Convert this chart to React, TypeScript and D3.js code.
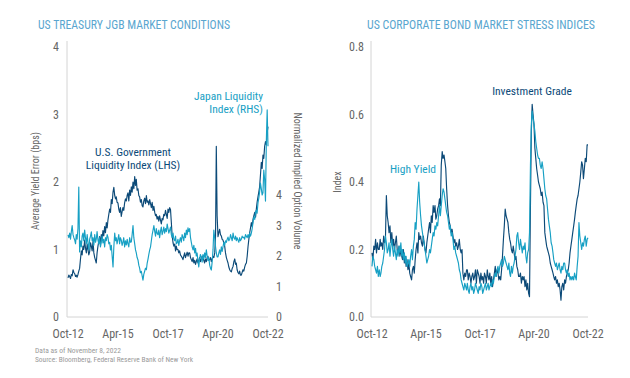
import React from 'react';
import * as d3 from 'd3';

// ---------- data (semi-monthly, Oct 2012 -> Oct 2022) ----------
const xTickLabels = ['Oct-12', 'Apr-15', 'Oct-17', 'Apr-20', 'Oct-22'];
const xTickMonths = [0, 30, 60, 90, 120];
const leftTicks = [0, 1, 2, 3, 4];
const rightTicks = [0, 1, 2, 3, 4];
const corpTicks = [0, 0.2, 0.4, 0.6, 0.8];
const corpTickLabels = ['0.0', '0.2', '0.4', '0.6', '0.8'];

const usGovLiquidity = [
  0.58, 0.62, 0.60, 0.57, 0.63, 0.61, 0.70, 0.66, 0.64, 0.60, 0.62, 0.59, 0.63, 0.68, 0.72, 0.85,
  0.98, 0.92, 1.05, 1.00, 1.14, 1.02, 0.95, 1.08, 1.00, 0.92, 0.97, 1.10, 1.05, 0.98, 1.12, 0.95,
  0.88, 0.84, 0.80, 0.95, 1.05, 1.12, 1.19, 1.08, 1.22, 1.15, 1.28, 1.20, 1.34, 1.25, 1.40, 1.32,
  1.44, 1.52, 1.60, 1.55, 1.74, 1.68, 1.85, 1.92, 1.80, 1.75, 1.78, 1.70, 1.69, 1.60, 1.55, 1.62,
  1.49, 1.56, 1.62, 1.58, 1.69, 1.75, 1.72, 1.80, 1.84, 1.72, 1.88, 1.80, 1.93, 1.85, 2.00, 1.90,
  2.08, 1.95, 2.04, 1.88, 1.90, 1.80, 1.78, 1.70, 1.74, 1.65, 1.63, 1.72, 1.76, 1.68, 1.80, 1.70,
  1.72, 1.66, 1.74, 1.68, 1.62, 1.70, 1.58, 1.64, 1.55, 1.50, 1.52, 1.45, 1.49, 1.42, 1.50, 1.44,
  1.38, 1.46, 1.44, 1.52, 1.50, 1.58, 1.52, 1.46, 1.60, 1.55, 1.62, 1.59, 1.40, 1.20, 1.10, 1.05,
  1.08, 0.98, 1.05, 1.00, 1.00, 0.95, 0.98, 0.92, 0.90, 0.88, 0.85, 0.90, 0.95, 0.88, 0.92, 0.96,
  0.90, 0.95, 0.95, 0.88, 0.85, 0.82, 0.88, 0.80, 0.84, 0.78, 0.82, 0.86, 0.80, 0.84, 0.88, 0.82,
  0.86, 0.90, 0.90, 0.84, 0.80, 0.86, 0.82, 0.88, 0.90, 0.84, 0.85, 0.88, 0.82, 0.86, 0.90, 0.88,
  0.95, 1.20, 2.53, 1.50, 1.19, 1.25, 1.30, 1.22, 1.20, 1.15, 1.14, 1.10, 1.05, 0.95, 0.88, 0.84,
  0.80, 0.74, 0.70, 0.68, 0.67, 0.72, 0.75, 0.82, 0.86, 0.78, 0.80, 0.70, 0.66, 0.64, 0.68, 0.62,
  0.62, 0.66, 0.70, 0.68, 0.74, 0.78, 0.80, 0.90, 1.04, 1.15, 1.25, 1.32, 1.40, 1.34, 1.45, 1.50,
  1.55, 1.48, 1.59, 1.70, 1.78, 1.85, 1.93, 2.10, 2.29, 2.20, 2.40, 2.35, 2.53, 2.60, 2.55, 2.73,
  2.82,
];

const japanLiquidity = [
  2.69, 2.60, 2.75, 2.55, 2.80, 3.00, 2.70, 2.60, 2.52, 2.40, 2.70, 2.55, 2.90, 4.26, 2.13, 2.50,
  2.30, 2.65, 2.75, 2.50, 2.85, 2.60, 2.40, 2.70, 2.43, 2.20, 2.55, 2.65, 2.79, 2.50, 2.60, 2.35,
  2.70, 2.45, 2.55, 2.80, 2.52, 2.40, 2.60, 2.30, 2.45, 2.65, 2.43, 2.55, 2.30, 2.60, 2.50, 2.70,
  2.62, 2.40, 2.45, 2.20, 2.35, 2.00, 1.64, 2.30, 2.75, 2.50, 2.60, 2.40, 2.55, 2.70, 2.40, 2.60,
  2.52, 2.35, 2.45, 2.60, 2.30, 2.50, 2.36, 2.55, 2.40, 2.30, 2.60, 2.45, 2.46, 2.70, 3.00, 2.60,
  2.40, 2.20, 2.10, 1.95, 1.87, 1.70, 1.60, 1.45, 1.50, 1.35, 1.21, 1.40, 1.50, 1.60, 1.55, 1.77,
  1.90, 2.05, 2.20, 2.30, 2.50, 2.70, 2.85, 3.00, 2.80, 2.65, 2.90, 2.75, 2.70, 2.85, 2.60, 2.80,
  2.95, 2.70, 2.80, 2.95, 2.75, 2.90, 2.80, 3.05, 2.90, 2.75, 2.85, 2.95, 2.70, 2.60, 2.75, 2.55,
  2.50, 2.65, 2.40, 2.43, 2.55, 2.35, 2.50, 2.60, 2.45, 2.70, 2.62, 2.50, 2.75, 2.60, 2.85, 2.70,
  2.92, 2.80, 2.90, 2.60, 2.45, 2.30, 2.20, 2.35, 2.10, 2.25, 2.00, 2.10, 1.85, 1.64, 1.90, 2.05,
  1.95, 1.80, 2.05, 1.90, 2.10, 1.95, 2.20, 2.00, 1.85, 1.95, 1.70, 1.60, 1.54, 1.80, 2.20, 2.85,
  2.60, 2.30, 2.10, 1.97, 1.97, 2.10, 2.20, 2.05, 2.30, 2.15, 2.30, 2.45, 2.35, 2.50, 2.45, 2.55,
  2.62, 2.50, 2.55, 2.70, 2.60, 2.50, 2.75, 2.60, 2.55, 2.65, 2.50, 2.60, 2.52, 2.45, 2.60, 2.50,
  2.55, 2.65, 2.60, 2.62, 2.55, 2.70, 2.65, 2.60, 2.70, 2.60, 2.75, 2.65, 2.75, 2.90, 3.10, 3.28,
  3.20, 3.45, 3.50, 3.40, 3.74, 3.90, 4.10, 4.39, 4.20, 4.00, 4.07, 4.82, 4.50, 3.80, 5.80, 6.79,
  5.60,
];

const investmentGrade = [
  0.19, 0.17, 0.21, 0.20, 0.23, 0.19, 0.22, 0.20, 0.20, 0.23, 0.21, 0.22, 0.20, 0.24, 0.22, 0.23,
  0.36, 0.30, 0.28, 0.25, 0.27, 0.22, 0.25, 0.21, 0.23, 0.20, 0.22, 0.24, 0.20, 0.19, 0.21, 0.18,
  0.20, 0.18, 0.17, 0.20, 0.16, 0.18, 0.15, 0.17, 0.14, 0.16, 0.13, 0.12, 0.11, 0.14, 0.15, 0.13,
  0.17, 0.20, 0.22, 0.19, 0.25, 0.23, 0.24, 0.22, 0.21, 0.24, 0.22, 0.20, 0.19, 0.22, 0.24, 0.26,
  0.28, 0.25, 0.30, 0.28, 0.33, 0.31, 0.33, 0.29, 0.30, 0.32, 0.33, 0.35, 0.33, 0.45, 0.49, 0.47,
  0.48, 0.46, 0.44, 0.38, 0.33, 0.30, 0.28, 0.27, 0.25, 0.26, 0.24, 0.22, 0.23, 0.21, 0.22, 0.20,
  0.21, 0.23, 0.20, 0.19, 0.20, 0.13, 0.11, 0.13, 0.12, 0.14, 0.14, 0.11, 0.13, 0.12, 0.10, 0.12,
  0.13, 0.11, 0.12, 0.14, 0.10, 0.14, 0.13, 0.12, 0.10, 0.13, 0.11, 0.12, 0.10, 0.13, 0.12, 0.10,
  0.14, 0.12, 0.11, 0.13, 0.10, 0.12, 0.09, 0.11, 0.13, 0.15, 0.12, 0.14, 0.13, 0.11, 0.12, 0.11,
  0.14, 0.18, 0.23, 0.27, 0.32, 0.30, 0.29, 0.28, 0.25, 0.23, 0.22, 0.20, 0.19, 0.21, 0.19, 0.17,
  0.18, 0.15, 0.14, 0.12, 0.12, 0.13, 0.10, 0.12, 0.11, 0.12, 0.09, 0.11, 0.08, 0.10, 0.07, 0.06,
  0.33, 0.55, 0.63, 0.60, 0.57, 0.50, 0.47, 0.44, 0.42, 0.40, 0.39, 0.38, 0.36, 0.37, 0.34, 0.33,
  0.25, 0.23, 0.21, 0.20, 0.19, 0.18, 0.16, 0.15, 0.14, 0.13, 0.12, 0.11, 0.12, 0.10, 0.11, 0.09,
  0.10, 0.08, 0.05, 0.09, 0.10, 0.08, 0.11, 0.10, 0.12, 0.13, 0.14, 0.16, 0.19, 0.21, 0.23, 0.25,
  0.27, 0.29, 0.31, 0.33, 0.35, 0.36, 0.38, 0.40, 0.43, 0.46, 0.45, 0.41, 0.44, 0.47, 0.46, 0.51,
  0.51,
];

const highYield = [
  0.15, 0.18, 0.17, 0.15, 0.14, 0.13, 0.15, 0.12, 0.14, 0.12, 0.13, 0.15, 0.16, 0.18, 0.20, 0.24,
  0.22, 0.19, 0.20, 0.22, 0.18, 0.21, 0.23, 0.20, 0.18, 0.21, 0.19, 0.17, 0.20, 0.18, 0.21, 0.19,
  0.22, 0.18, 0.20, 0.17, 0.19, 0.16, 0.18, 0.15, 0.16, 0.17, 0.15, 0.18, 0.20, 0.17, 0.21, 0.23,
  0.28, 0.26, 0.32, 0.36, 0.40, 0.34, 0.30, 0.27, 0.25, 0.23, 0.22, 0.20, 0.18, 0.16, 0.17, 0.18,
  0.20, 0.19, 0.21, 0.23, 0.25, 0.24, 0.27, 0.26, 0.28, 0.27, 0.30, 0.33, 0.30, 0.33, 0.36, 0.38,
  0.37, 0.35, 0.33, 0.31, 0.30, 0.28, 0.26, 0.27, 0.24, 0.25, 0.23, 0.20, 0.21, 0.19, 0.18, 0.17,
  0.16, 0.14, 0.13, 0.11, 0.10, 0.09, 0.08, 0.10, 0.09, 0.08, 0.10, 0.08, 0.07, 0.09, 0.10, 0.08,
  0.09, 0.07, 0.08, 0.10, 0.09, 0.08, 0.07, 0.09, 0.08, 0.10, 0.09, 0.07, 0.08, 0.09, 0.10, 0.08,
  0.09, 0.10, 0.08, 0.09, 0.10, 0.09, 0.11, 0.10, 0.12, 0.13, 0.12, 0.14, 0.15, 0.13, 0.15, 0.16,
  0.17, 0.15, 0.16, 0.18, 0.17, 0.16, 0.15, 0.14, 0.16, 0.13, 0.12, 0.15, 0.13, 0.15, 0.16, 0.18,
  0.20, 0.24, 0.25, 0.22, 0.20, 0.23, 0.21, 0.19, 0.21, 0.20, 0.22, 0.18, 0.16, 0.19, 0.20, 0.25,
  0.45, 0.57, 0.61, 0.59, 0.57, 0.55, 0.52, 0.50, 0.48, 0.47, 0.47, 0.45, 0.44, 0.46, 0.44, 0.41,
  0.38, 0.36, 0.35, 0.32, 0.29, 0.27, 0.25, 0.22, 0.21, 0.19, 0.17, 0.16, 0.15, 0.16, 0.14, 0.15,
  0.16, 0.14, 0.13, 0.15, 0.14, 0.16, 0.16, 0.14, 0.13, 0.14, 0.12, 0.13, 0.11, 0.12, 0.11, 0.12,
  0.11, 0.13, 0.12, 0.11, 0.15, 0.18, 0.28, 0.24, 0.22, 0.20, 0.22, 0.21, 0.23, 0.24, 0.21, 0.23,
  0.235,
];

// ---------- style ----------
const DARK = '#0c4a78';
const LIGHT = '#17a0c4';
const TITLE = '#5aa6cf';
const AXIS = '#d4d4d4';
const TICK = '#666666';
const FONT = "'Liberation Sans Narrow', 'Roboto Condensed', 'Arial Narrow', Roboto, sans-serif";

const dateAt = (i: number) => new Date(2012, 9 + Math.floor(i / 2), i % 2 ? 16 : 1);
const monthDate = (m: number) => new Date(2012, 9 + m, 1);
const domainX: [Date, Date] = [monthDate(0), monthDate(120)];

function Line({ values, x, y, color }: any) {
  const gen = d3
    .line<number>()
    .x((_, i) => x(dateAt(i)))
    .y((d) => y(d));
  return <path d={gen(values) || ''} fill="none" stroke={color} strokeWidth={1.15} strokeLinejoin="round" />;
}

export default function App() {
  const top = 47;
  const bottom = 317;

  // left chart
  const xL = d3.scaleTime().domain(domainX).range([68, 268]);
  const yL = d3.scaleLinear().domain([0, 4]).range([bottom, top]);
  const yR = d3.scaleLinear().domain([0, 4]).range([bottom, 195]);

  // right chart
  const xC = d3.scaleTime().domain(domainX).range([372, 588]);
  const yC = d3.scaleLinear().domain([0, 0.8]).range([bottom, top]);

  return (
    <svg
      width={630}
      height={378}
      style={{ position: 'absolute', left: 0, top: 0, background: '#fff' }}
      fontFamily={FONT}
    >
      {/* ===== Left chart ===== */}
      <text x={38} y={29} fontSize={12} fill={TITLE} textLength={192} lengthAdjust="spacingAndGlyphs">US TREASURY JGB MARKET CONDITIONS</text>
      <line x1={67} x2={67} y1={41} y2={bottom} stroke={AXIS} strokeWidth={1} />
      <line x1={67} x2={268} y1={bottom} y2={bottom} stroke={AXIS} strokeWidth={1} />
      {leftTicks.map((t) => (
        <text key={'l' + t} x={59} y={yL(t)} dy="0.35em" textAnchor="end" fontSize={12} fill={TICK}>{t}</text>
      ))}
      {rightTicks.map((t) => (
        <text key={'r' + t} x={276} y={yR(t)} dy="0.35em" textAnchor="start" fontSize={12} fill={TICK}>{t}</text>
      ))}
      {xTickMonths.map((m, i) => (
        <text key={'xl' + m} x={xL(monthDate(m))} y={338} textAnchor="middle" fontSize={12} fill={TICK}>{xTickLabels[i]}</text>
      ))}
      <text transform="translate(39,181) rotate(-90)" textAnchor="middle" fontSize={10} fill={TICK}>Average Yield Error (bps)</text>
      <text transform="translate(294,181) rotate(90)" textAnchor="middle" fontSize={10} fill={TICK}>Normalized Implied Option Volume</text>

      <Line values={usGovLiquidity} x={xL} y={yL} color={DARK} />
      <Line values={japanLiquidity} x={xL} y={yR} color={LIGHT} />

      <text x={133} y={156} textAnchor="middle" fontSize={11.5} fill={DARK}>U.S. Government</text>
      <text x={133} y={169} textAnchor="middle" fontSize={11.5} fill={DARK}>Liquidity Index (LHS)</text>
      <text x={263} y={100} textAnchor="end" fontSize={11.5} fill={LIGHT}>Japan Liquidity</text>
      <text x={263} y={113} textAnchor="end" fontSize={11.5} fill={LIGHT}>Index (RHS)</text>

      <text x={35} y={352.5} fontSize={7.6} fill="#9a9a9a" textLength={86} lengthAdjust="spacingAndGlyphs">Data as of November 8, 2022</text>
      <text x={35} y={362} fontSize={7.6} fill="#9a9a9a" textLength={158} lengthAdjust="spacingAndGlyphs">Source: Bloomberg, Federal Reserve Bank of New York</text>

      {/* ===== Right chart ===== */}
      <text x={367} y={29} fontSize={12} fill={TITLE} textLength={228} lengthAdjust="spacingAndGlyphs">US CORPORATE BOND MARKET STRESS INDICES</text>
      <line x1={371} x2={371} y1={41} y2={bottom} stroke={AXIS} strokeWidth={1} />
      <line x1={371} x2={588} y1={bottom} y2={bottom} stroke={AXIS} strokeWidth={1} />
      {corpTicks.map((t, i) => (
        <text key={'c' + t} x={364} y={yC(t)} dy="0.35em" textAnchor="end" fontSize={12} fill={TICK}>{corpTickLabels[i]}</text>
      ))}
      {xTickMonths.map((m, i) => (
        <text key={'xc' + m} x={xC(monthDate(m))} y={338} textAnchor="middle" fontSize={12} fill={TICK}>{xTickLabels[i]}</text>
      ))}
      <text transform="translate(341,182) rotate(-90)" textAnchor="middle" fontSize={10} fill={TICK}>Index</text>

      <Line values={investmentGrade} x={xC} y={yC} color={DARK} />
      <Line values={highYield} x={xC} y={yC} color={LIGHT} />

      <text x={532} y={95} textAnchor="middle" fontSize={11.5} fill={DARK}>Investment Grade</text>
      <text x={413} y={173} textAnchor="middle" fontSize={11.5} fill={LIGHT}>High Yield</text>
    </svg>
  );
}
